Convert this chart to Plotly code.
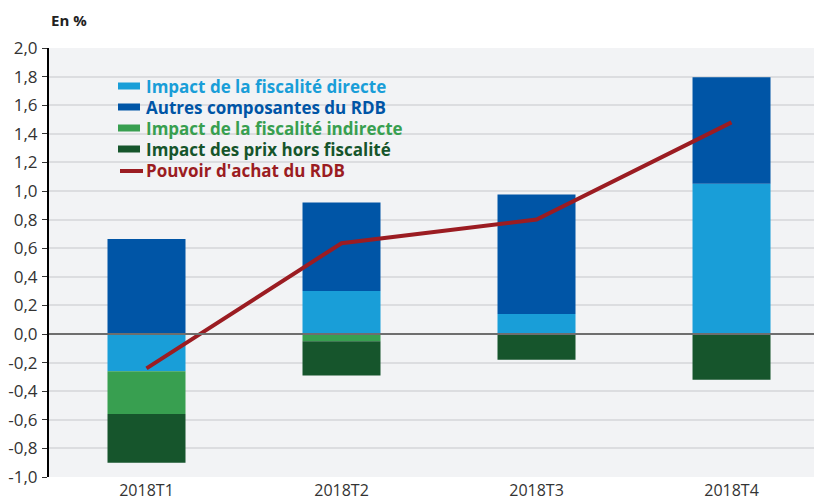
import plotly.graph_objects as go

categories = ["2018T1", "2018T2", "2018T3", "2018T4"]
fiscalite_directe = [-0.26, 0.30, 0.14, 1.05]
autres_composantes = [0.665, 0.62, 0.835, 0.745]
fiscalite_indirecte = [-0.30, -0.05, 0.0, 0.0]
prix_hors_fiscalite = [-0.34, -0.24, -0.18, -0.32]
pouvoir_achat = [-0.24, 0.635, 0.80, 1.48]

tick_values = [-1.0, -0.8, -0.6, -0.4, -0.2, 0.0, 0.2, 0.4, 0.6, 0.8, 1.0, 1.2, 1.4, 1.6, 1.8, 2.0]
tick_labels = ["-1,0", "-0,8", "-0,6", "-0,4", "-0,2", "0,0", "0,2", "0,4", "0,6", "0,8",
               "1,0", "1,2", "1,4", "1,6", "1,8", "2,0"]

series_names = ["Impact de la fiscalité directe", "Autres composantes du RDB",
                "Impact de la fiscalité indirecte", "Impact des prix hors fiscalité"]
line_name = "Pouvoir d'achat du RDB"

C_LB = "#199ED8"
C_DB = "#0055A6"
C_G = "#389F50"
C_DG = "#16552C"
C_R = "#9B1C22"

FONT = "Open Sans"

# layout geometry (figure pixels; page adds an 8px body margin)
W, H = 822, 504
ML, MR, MT, MB = 41, 8, 40, 35
PW = W - ML - MR
PH = H - MT - MB

def px(xs):
    return (xs - 8 - ML) / PW

def py(ys):
    return (H - MB - (ys - 8)) / PH

fig = go.Figure()
bar_colors = [C_LB, C_DB, C_G, C_DG]
bar_values = [fiscalite_directe, autres_composantes, fiscalite_indirecte, prix_hors_fiscalite]
for name, vals, col in zip(series_names, bar_values, bar_colors):
    fig.add_trace(go.Bar(
        x=categories, y=vals, name=name, width=0.4, showlegend=False,
        marker=dict(color=col, line=dict(width=0)),
    ))
fig.add_trace(go.Scatter(
    x=categories, y=pouvoir_achat, mode="lines", name=line_name, showlegend=False,
    line=dict(color=C_R, width=4),
))

# zero reference line drawn over the bars
shapes = [dict(type="line", xref="paper", yref="y", x0=0, x1=1, y0=0, y1=0,
               layer="above", line=dict(color="#6E6E6E", width=2))]
annotations = []
legend_items = list(zip(series_names + [line_name], bar_colors + [C_R]))
y0 = 86
for i, (name, col) in enumerate(legend_items):
    yc = y0 + i * 21
    if i < 4:
        shapes.append(dict(type="rect", xref="paper", yref="paper",
                           x0=px(118), x1=px(140), y0=py(yc + 3.5), y1=py(yc - 3.5),
                           fillcolor=col, line=dict(width=0)))
    else:
        shapes.append(dict(type="line", xref="paper", yref="paper",
                           x0=px(120), x1=px(143), y0=py(yc + 1), y1=py(yc + 1),
                           line=dict(color=col, width=4)))
    annotations.append(dict(text="<b>%s</b>" % name, xref="paper", yref="paper",
                            x=px(144), y=py(yc), xanchor="left", yanchor="middle",
                            showarrow=False, font=dict(family=FONT, size=17, color=col)))

annotations.append(dict(text="<b>En %</b>", xref="paper", yref="paper",
                        x=px(49), y=py(20), xanchor="left", yanchor="middle",
                        showarrow=False, font=dict(family=FONT, size=15, color="#222222")))

fig.update_layout(
    width=W, height=H,
    barmode="relative",
    paper_bgcolor="white",
    plot_bgcolor="#F2F3F5",
    margin=dict(l=ML, r=MR, t=MT, b=MB, autoexpand=False),
    font=dict(family=FONT, size=16, color="#333333"),
    showlegend=False,
    shapes=shapes,
    annotations=annotations,
)

fig.update_xaxes(
    range=[-0.5, 3.464], showgrid=False, showline=False, ticks="",
    tickfont=dict(family=FONT, size=16, color="#333333"), ticklabelstandoff=2,
)
fig.update_yaxes(
    range=[-1.0, 2.0], tickvals=tick_values, ticktext=tick_labels,
    showgrid=True, gridcolor="#DCDDE0", gridwidth=1.5,
    zeroline=False,
    showline=True, linecolor="#000000", linewidth=2,
    ticks="outside", ticklen=5, tickcolor="#333333", ticklabelstandoff=1,
    tickfont=dict(family=FONT, size=17, color="#333333"),
)

fig.write_html("out.html")
